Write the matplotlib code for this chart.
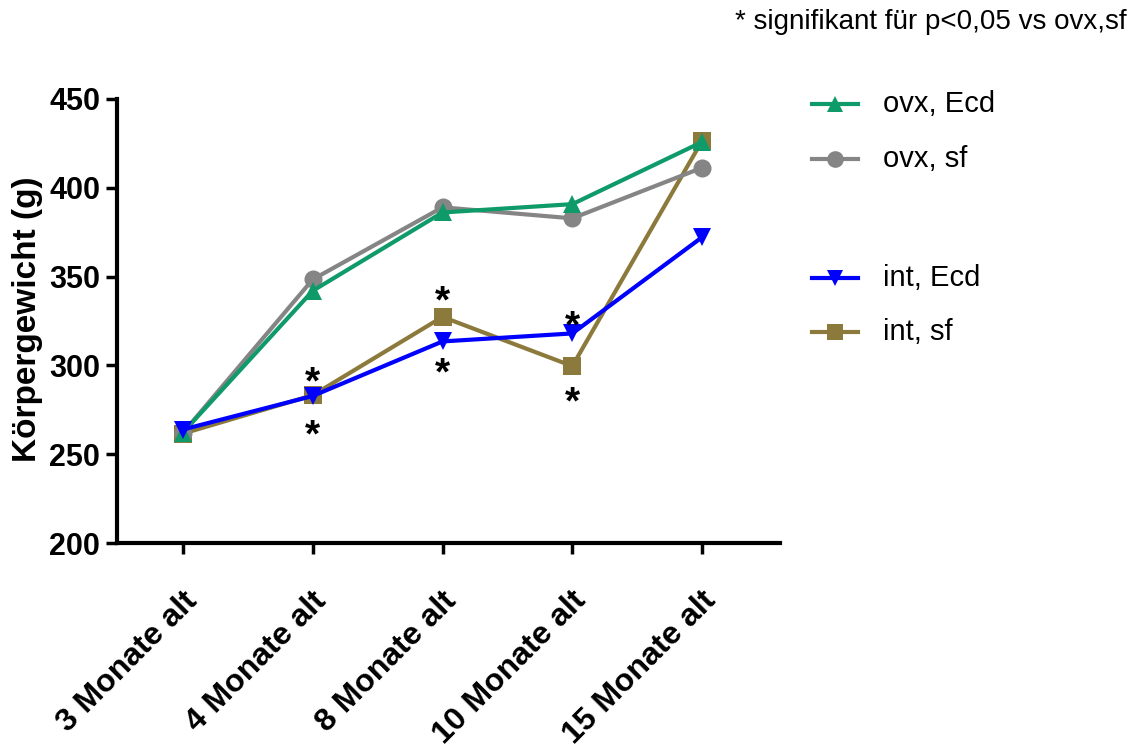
import matplotlib
matplotlib.use("Agg")
import matplotlib.pyplot as plt
from matplotlib.lines import Line2D
from matplotlib.transforms import ScaledTranslation, offset_copy

plt.rcParams["font.family"] = ["Liberation Sans", "DejaVu Sans"]

# Body weight (g) per age group
categories = ["3 Monate alt", "4 Monate alt", "8 Monate alt", "10 Monate alt", "15 Monate alt"]
ovx_ecd = [262.2, 342.0, 386.1, 390.8, 425.8]
ovx_sf = [262.0, 348.4, 389.0, 382.8, 411.3]
int_ecd = [263.9, 282.8, 313.5, 318.0, 372.2]
int_sf = [261.6, 283.2, 327.3, 299.6, 426.5]

# significance markers: (category index, y position in g)
sig_marks = [(1, 296.2), (1, 266.3), (2, 342.0), (2, 301.4), (3, 327.7), (3, 285.1)]

y_ticks = [200, 250, 300, 350, 400, 450]

series = [
    # drawing order: bottom to top
    ("int, sf", int_sf, "#8B7A3C", "s"),
    ("ovx, sf", ovx_sf, "#858585", "o"),
    ("ovx, Ecd", ovx_ecd, "#0F9A6A", "^"),
    ("int, Ecd", int_ecd, "#0000FF", "v"),
]

W, H = 1134, 751
fig = plt.figure(figsize=(W / 100, H / 100), dpi=100)
ax = fig.add_axes([117 / W, (H - 543) / H, (780 - 117) / W, (543 - 99) / H])

x = list(range(len(categories)))
for label, vals, color, marker in series:
    ax.plot(x, vals, color=color, lw=3, marker=marker, markersize=13,
            markeredgewidth=0, solid_joinstyle="miter", clip_on=False)

# significance asterisks, centred on the given y value
star_fs = 28
star_tr = ax.transData + ScaledTranslation(0, -0.556 * star_fs / 72, fig.dpi_scale_trans)
for i, yv in sig_marks:
    ax.text(i, yv, "*", fontsize=star_fs, fontweight="bold", ha="center",
            va="baseline", transform=star_tr, color="black")

ax.set_xlim(-0.508, 4.6)
ax.set_ylim(200, 450)
ax.set_yticks(y_ticks)
ax.set_xticks(x)
ax.set_xticklabels(categories)

for side in ("top", "right"):
    ax.spines[side].set_visible(False)
for side in ("left", "bottom"):
    ax.spines[side].set_linewidth(3)
ax.tick_params(axis="both", width=2.5, length=8, direction="out", color="black")
ax.tick_params(axis="y", labelsize=22, pad=4)
for t in ax.get_yticklabels():
    t.set_fontweight("bold")

for t in ax.get_xticklabels():
    t.set_fontsize(23)
    t.set_fontweight("bold")
    t.set_rotation(45)
    t.set_rotation_mode("anchor")
    t.set_ha("right")
    t.set_va("top")
    t.set_transform(offset_copy(t.get_transform(), fig=fig, x=-1, y=-27, units="dots"))

ax.set_ylabel("Körpergewicht (g)", fontsize=24, fontweight="bold")
ax.yaxis.set_label_coords(-0.112, 0.505)

# legend drawn in figure pixel coordinates
def fx(px):
    return px / W

def fy(py):
    return (H - py) / H

legend_rows = [("ovx, Ecd", 104), ("ovx, sf", 159), ("int, Ecd", 278), ("int, sf", 332)]
style = {lab: (c, m) for lab, _, c, m in series}
for lab, py in legend_rows:
    c, m = style[lab]
    fig.add_artist(Line2D([fx(812), fx(858)], [fy(py), fy(py)], color=c, lw=3,
                          transform=fig.transFigure))
    fig.add_artist(Line2D([fx(835)], [fy(py)], color=c, marker=m, markersize=12,
                          markeredgewidth=0, transform=fig.transFigure))
    fig.text(fx(883), fy(py), lab, fontsize=21, ha="left", va="center")

fig.text(fx(1127), fy(29), "* signifikant für p<0,05 vs ovx,sf", fontsize=20,
         ha="right", va="baseline")

fig.savefig("out.png", dpi=100)
